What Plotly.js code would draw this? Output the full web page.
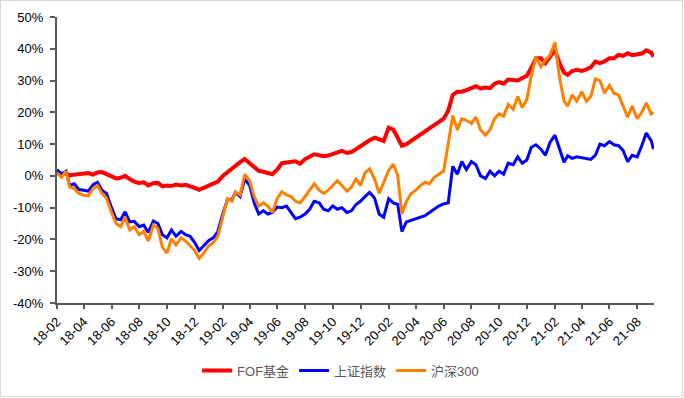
<!DOCTYPE html>
<html>
<head>
<meta charset="utf-8">
<script src="https://cdn.plot.ly/plotly-3.0.1.min.js"></script>
<style>
  html, body { margin: 0; padding: 0; background: #fff; }
  #wrap { position: relative; width: 684px; height: 398px; }
  #chart { position: absolute; left: 0; top: 0; width: 684px; height: 398px; }
  #frame { position: absolute; left: 0; top: 0; width: 683px; height: 397px; box-sizing: border-box; border: 1px solid #d9d9d9; pointer-events: none; }
</style>
</head>
<body>
<div id="wrap"><div id="chart"></div><div id="frame"></div></div>
<script>
const dates = [
"2018-02-01","2018-02-11","2018-02-21","2018-03-01","2018-03-11","2018-03-21",
"2018-04-01","2018-04-11","2018-04-21","2018-05-01","2018-05-11","2018-05-21",
"2018-06-01","2018-06-11","2018-06-21","2018-07-01","2018-07-11","2018-07-21",
"2018-08-01","2018-08-11","2018-08-21","2018-09-01","2018-09-11","2018-09-21",
"2018-10-01","2018-10-11","2018-10-21","2018-11-01","2018-11-11","2018-11-21",
"2018-12-01","2018-12-11","2018-12-21","2019-01-01","2019-01-11","2019-01-21",
"2019-02-01","2019-02-11","2019-02-21","2019-03-01","2019-03-11","2019-03-21",
"2019-04-01","2019-04-11","2019-04-21","2019-05-01","2019-05-11","2019-05-21",
"2019-06-01","2019-06-11","2019-06-21","2019-07-01","2019-07-11","2019-07-21",
"2019-08-01","2019-08-11","2019-08-21","2019-09-01","2019-09-11","2019-09-21",
"2019-10-01","2019-10-11","2019-10-21","2019-11-01","2019-11-11","2019-11-21",
"2019-12-01","2019-12-11","2019-12-21","2020-01-01","2020-01-11","2020-01-21",
"2020-02-01","2020-02-11","2020-02-21","2020-03-01","2020-03-11","2020-03-21",
"2020-04-01","2020-04-11","2020-04-21","2020-05-01","2020-05-11","2020-05-21",
"2020-06-01","2020-06-11","2020-06-21","2020-07-01","2020-07-11","2020-07-21",
"2020-08-01","2020-08-11","2020-08-21","2020-09-01","2020-09-11","2020-09-21",
"2020-10-01","2020-10-11","2020-10-21","2020-11-01","2020-11-11","2020-11-21",
"2020-12-01","2020-12-11","2020-12-21","2021-01-01","2021-01-11","2021-01-21",
"2021-02-01","2021-02-11","2021-02-21","2021-03-01","2021-03-11","2021-03-21",
"2021-04-01","2021-04-11","2021-04-21","2021-05-01","2021-05-11","2021-05-21",
"2021-06-01","2021-06-11","2021-06-21","2021-07-01","2021-07-11","2021-07-21",
"2021-08-01","2021-08-11","2021-08-21","2021-09-01","2021-09-06"
];

const fofFund = [
0.8,0.9,0.7, 0.2,0.3,0.5, 0.6,0.9,0.4, 1.1,1.2,0.6, 0.0,-0.8,-0.6, 0.0,-1.0,-1.8,
-2.2,-2.0,-3.0, -2.3,-2.2,-3.3, -3.0,-3.2,-2.7, -3.0,-2.8,-3.2, -3.8,-4.4,-3.8, -2.9,-2.4,-1.8,
0.0,1.2,2.4, 3.0,4.3,5.3, 4.0,2.8,1.6, 1.3,0.8,0.5, 2.0,4.0,4.2, 4.5,4.6,3.8,
5.3,6.0,6.8, 6.5,6.2,6.4, 6.8,7.4,7.9, 7.2,7.5,8.4, 9.3,10.5,11.2, 12.0,11.5,11.0,
15.2,14.6,12.0, 9.5,10.0,11.0, 11.8,13.0,13.8, 14.8,15.8,17.0, 18.0,20.5,25.5, 26.5,26.5,27.0,
27.5,28.2,27.5, 27.8,27.6,29.0, 29.5,29.0,30.3, 30.0,30.0,30.8, 31.5,34.0,37.0, 37.0,35.5,37.5,
39.6,35.5,32.5, 31.8,33.0,33.4, 33.0,33.5,34.2, 36.0,35.5,36.0, 37.0,37.0,38.1, 37.8,38.6,38.0,
38.3,38.5,39.5, 38.8,37.5
];

const sseIndex = [
2.0,0.5,1.5, -3.0,-2.5,-4.3, -4.5,-4.8,-2.8, -2.0,-4.5,-5.5, -10.0,-13.5,-13.8, -11.3,-14.5,-14.3,
-16.0,-15.5,-17.8, -14.2,-15.0,-18.5, -19.5,-17.0,-19.0, -17.5,-18.5,-19.0, -21.0,-23.5,-22.0, -20.3,-19.5,-17.5,
-12.0,-7.5,-7.5, -5.2,-6.5,-1.0, -3.0,-8.5,-12.0, -11.0,-12.0,-11.5, -9.8,-10.0,-9.5, -11.5,-13.5,-13.0,
-12.0,-10.5,-8.0, -8.5,-10.5,-11.0, -9.5,-10.5,-10.0, -11.5,-11.0,-9.0, -8.0,-6.5,-5.2, -7.0,-12.0,-13.0,
-7.2,-8.5,-9.0, -17.5,-14.5,-14.0, -13.5,-12.8,-12.5, -11.5,-10.5,-9.5, -8.8,-8.5,3.0, 0.5,4.5,2.0,
4.5,3.5,0.0, -0.8,1.5,0.0, 1.5,0.5,4.0, 3.5,6.0,4.0, 5.0,9.0,9.8, 8.4,6.5,10.5,
12.8,8.4,4.3, 6.3,5.5,6.0, 5.8,5.5,5.2, 6.5,10.0,9.5, 10.8,9.8,9.5, 8.0,4.5,6.5,
6.0,9.5,13.5, 11.0,8.4
];

const csi300 = [
1.0,-0.5,1.5, -3.5,-4.0,-5.5, -6.1,-6.3,-4.0, -3.0,-5.5,-7.0, -11.5,-15.0,-16.0, -13.0,-17.0,-16.0,
-18.5,-17.5,-20.5, -15.5,-16.5,-22.5, -24.3,-19.8,-21.7, -19.5,-20.5,-22.0, -23.5,-26.0,-24.3, -22.0,-21.0,-19.0,
-13.0,-7.2,-8.0, -5.0,-6.0,0.5, -1.5,-6.5,-9.5, -8.5,-9.5,-11.5, -7.0,-5.0,-6.0, -6.5,-8.0,-8.5,
-6.5,-4.5,-2.5, -4.5,-5.5,-4.5, -3.0,-1.5,-3.0, -4.8,-3.5,-1.0, -3.0,1.0,2.2, -1.0,-5.5,-2.0,
1.7,3.7,0.1, -12.0,-8.0,-5.6, -4.5,-3.0,-2.0, -2.5,-0.5,0.5, 1.5,10.0,19.0, 14.5,18.0,17.5,
16.5,18.5,14.5, 12.8,14.5,18.0, 19.5,18.8,22.5, 20.9,25.0,21.5, 24.0,31.5,37.5, 34.4,36.5,38.0,
42.0,31.0,23.5, 22.0,25.5,23.5, 26.5,23.5,25.0, 30.5,30.0,26.0, 28.5,26.0,25.5, 22.0,18.5,22.0,
18.0,20.0,23.0, 19.5,20.0
];

const seriesNames = ["FOF基金", "上证指数", "沪深300"];
const seriesColors = ["#FF0000", "#0000FF", "#FF8000"];
const yTickVals = [-40,-30,-20,-10,0,10,20,30,40,50];
const yTickText = ["-40%","-30%","-20%","-10%","0%","10%","20%","30%","40%","50%"];

const traces = [
  {x: dates, y: fofFund, name: seriesNames[0], type: "scatter", mode: "lines", line: {color: seriesColors[0], width: 4}},
  {x: dates, y: sseIndex, name: seriesNames[1], type: "scatter", mode: "lines", line: {color: seriesColors[1], width: 3}},
  {x: dates, y: csi300, name: seriesNames[2], type: "scatter", mode: "lines", line: {color: seriesColors[2], width: 3}}
];

const axisColor = "#595959";
const layout = {
  width: 684, height: 398,
  margin: {l: 57, r: 30, t: 17, b: 93, pad: 0},
  paper_bgcolor: "rgba(0,0,0,0)", plot_bgcolor: "#fff",
  font: {family: 'Arial, "Liberation Sans", "Noto Sans CJK SC", sans-serif', size: 13, color: "#000"},
  showlegend: true,
  legend: {orientation: "h", x: 0.475, xanchor: "center", y: -0.236, yanchor: "middle",
           font: {family: 'Arial, "Liberation Sans", "Noto Sans CJK SC", sans-serif', size: 13, color: "#595959"},
           itemwidth: 30, traceorder: "normal", bgcolor: "rgba(0,0,0,0)"},
  xaxis: {type: "date", range: ["2018-02-01", "2021-09-07"], tick0: "2018-02-01", dtick: "M2",
          tickformat: "%y-%m", tickangle: -45, ticks: "outside", ticklen: 4, tickwidth: 2, tickcolor: axisColor,
          showline: true, linecolor: axisColor, linewidth: 2, showgrid: false, zeroline: false,
          tickfont: {size: 13, color: "#000"}},
  yaxis: {range: [-40, 50], tickmode: "array", tickvals: yTickVals, ticktext: yTickText,
          ticks: "outside", ticklen: 5, tickwidth: 2, tickcolor: axisColor,
          showline: true, linecolor: axisColor, linewidth: 2, showgrid: false, zeroline: false,
          ticklabelstandoff: 4, tickfont: {size: 13, color: "#000"}}
};

Plotly.newPlot("chart", traces, layout, {staticPlot: true, displayModeBar: false});
</script>
</body>
</html>
